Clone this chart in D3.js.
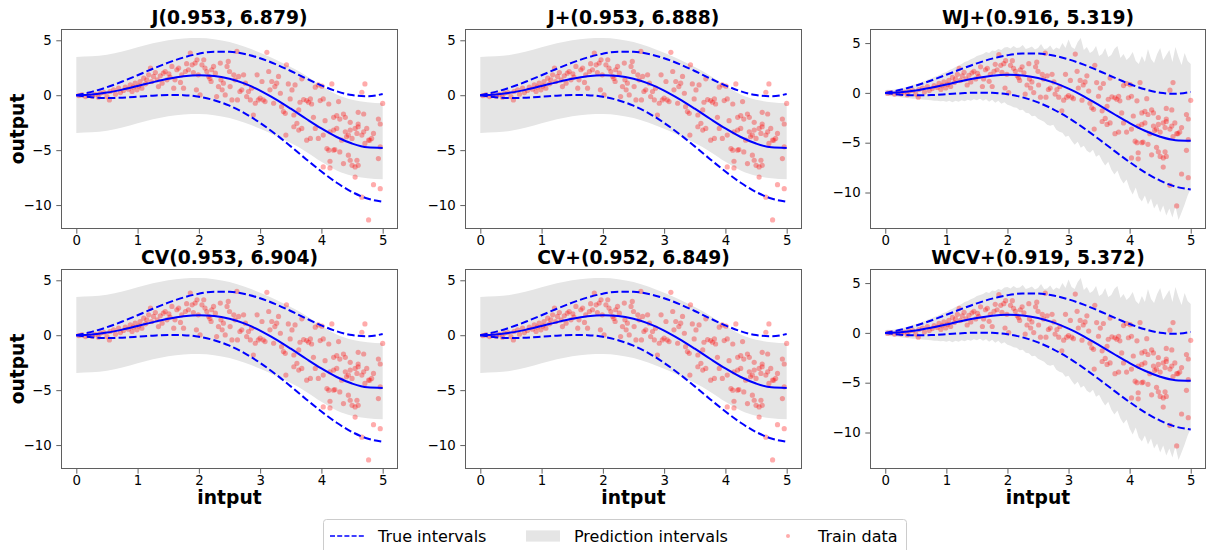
<!DOCTYPE html>
<html>
<head>
<meta charset="utf-8">
<script src="https://cdn.jsdelivr.net/npm/d3@7"></script>
<style>
  body { margin: 0; background: #fff; }
  svg { display: block; }
  text { font-family: "DejaVu Sans", sans-serif; fill: #000; }
</style>
</head>
<body>
<svg id="fig" width="1207" height="550"></svg>
<script>
// ---- data -------------------------------------------------------------
const panelTitles = ["J(0.953, 6.879)", "J+(0.953, 6.888)", "WJ+(0.916, 5.319)",
                     "CV(0.953, 6.904)", "CV+(0.952, 6.849)", "WCV+(0.919, 5.372)"];
const panelBand = ["smooth", "smooth", "weighted", "smooth", "smooth", "weighted"];

const xTicks = [0, 1, 2, 3, 4, 5];
const yTicks = [-10, -5, 0, 5];

// coarse grid used by the smooth curves
const gridX = [0, 0.25, 0.5, 0.75, 1, 1.25, 1.5, 1.75, 2, 2.25, 2.5, 2.75, 3, 3.25, 3.5, 3.75, 4, 4.25, 4.5, 4.75, 5];
const trueMean  = [0, 0.062, 0.240, 0.511, 0.841, 1.186, 1.496, 1.722, 1.819, 1.751, 1.496, 1.050, 0.423, -0.352, -1.228, -2.144, -3.027, -3.804, -4.399, -4.747, -4.795];
const trueUpper = [0, 0.307, 0.730, 1.246, 1.821, 2.411, 2.966, 3.437, 3.779, 3.956, 3.946, 3.745, 3.363, 2.833, 2.202, 1.531, 0.893, 0.361, 0.011, -0.092, 0.105];
const trueLower = [0, -0.183, -0.250, -0.224, -0.139, -0.039, 0.026, 0.007, -0.141, -0.454, -0.954, -1.645, -2.517, -3.537, -4.658, -5.819, -6.947, -7.969, -8.809, -9.402, -9.695];
const predUpper = [3.49, 3.54, 3.68, 3.98, 4.37, 4.73, 5.01, 5.16, 5.20, 5.09, 4.84, 4.41, 3.86, 3.24, 2.56, 1.78, 0.86, 0.06, -0.42, -0.64, -0.74];
const predLower = [-3.43, -3.38, -3.24, -2.94, -2.55, -2.19, -1.91, -1.76, -1.72, -1.83, -2.08, -2.51, -3.06, -3.68, -4.36, -5.14, -6.06, -6.86, -7.34, -7.56, -7.66];

// fine grid used by the weighted (jagged) intervals
const wGridX = [0, 0.05, 0.1, 0.15, 0.2, 0.25, 0.3, 0.35, 0.4, 0.45, 0.5, 0.55, 0.6, 0.65, 0.7, 0.75, 0.8, 0.85, 0.9, 0.95,
  1, 1.05, 1.1, 1.15, 1.2, 1.25, 1.3, 1.35, 1.4, 1.45, 1.5, 1.55, 1.6, 1.65, 1.7, 1.75, 1.8, 1.85, 1.9, 1.95,
  2, 2.05, 2.1, 2.15, 2.2, 2.25, 2.3, 2.35, 2.4, 2.45, 2.5, 2.55, 2.6, 2.65, 2.7, 2.75, 2.8, 2.85, 2.9, 2.95,
  3, 3.05, 3.1, 3.15, 3.2, 3.25, 3.3, 3.35, 3.4, 3.45, 3.5, 3.55, 3.6, 3.65, 3.7, 3.75, 3.8, 3.85, 3.9, 3.95,
  4, 4.05, 4.1, 4.15, 4.2, 4.25, 4.3, 4.35, 4.4, 4.45, 4.5, 4.55, 4.6, 4.65, 4.7, 4.75, 4.8, 4.85, 4.9, 4.95, 5];
const wPredUpper = [0.30, 0.32, 0.28, 0.35, 0.40, 0.45, 0.52, 0.58, 0.66, 0.80, 0.90, 0.98, 1.10, 1.20, 1.35, 1.45, 1.60, 1.70, 1.85, 2.00,
  2.10, 2.30, 2.42, 2.60, 2.75, 2.90, 3.10, 3.20, 3.38, 3.50, 3.70, 3.80, 3.90, 4.10, 4.00, 4.25, 4.20, 4.40, 4.30, 4.55,
  4.60, 4.45, 4.70, 4.50, 4.55, 4.80, 4.40, 4.50, 4.65, 4.35, 4.50, 4.90, 4.40, 4.45, 4.75, 4.30, 4.55, 4.40, 5.00, 4.50,
  5.35, 4.60, 4.40, 5.10, 5.50, 4.30, 4.60, 4.00, 4.20, 4.70, 3.70, 3.90, 4.50, 3.60, 3.80, 4.40, 4.70, 3.50, 3.90, 3.30,
  3.60, 4.10, 3.20, 2.90, 3.70, 3.10, 4.40, 3.40, 3.00, 3.90, 4.50, 3.30, 3.80, 4.30, 3.10, 4.60, 3.60, 2.80, 4.00, 3.20, 2.90];
const wPredLower = [-0.30, -0.32, -0.35, -0.38, -0.40, -0.45, -0.48, -0.52, -0.55, -0.58, -0.60, -0.62, -0.66, -0.70, -0.72, -0.75, -0.78, -0.80, -0.85, -0.82,
  -0.88, -0.80, -0.95, -0.78, -0.90, -0.75, -0.85, -0.70, -0.80, -0.65, -0.75, -0.60, -0.80, -0.65, -0.90, -0.70, -1.00, -0.80, -1.10, -0.95,
  -1.20, -1.30, -1.45, -1.50, -1.75, -1.70, -2.00, -2.05, -2.35, -2.30, -2.60, -2.75, -2.90, -3.20, -3.30, -3.20, -3.70, -3.90, -4.00, -4.40,
  -4.30, -4.80, -5.20, -4.90, -5.50, -5.30, -5.80, -6.00, -5.70, -6.40, -6.20, -6.80, -7.30, -6.90, -7.70, -8.20, -7.80, -8.60, -9.10, -8.70,
  -9.60, -10.20, -9.50, -10.50, -10.90, -10.30, -11.20, -10.60, -11.60, -11.10, -12.00, -11.30, -12.30, -11.60, -12.50, -11.40, -12.75, -12.00, -11.20, -10.30, -9.60];

// training sample
const trainX = [0.04, 0.09, 0.15, 0.20, 0.26, 0.31, 0.36, 0.39, 0.45, 0.50, 0.54,
  0.55, 0.61, 0.64, 0.69, 0.72, 0.77, 0.80, 0.85, 0.88, 0.91, 0.93, 0.96, 0.99, 1.02,
  1.04, 1.07, 1.10, 1.13, 1.15, 1.18, 1.21, 1.23, 1.26, 1.29, 1.32, 1.34, 1.37, 1.40, 1.42, 1.45, 1.48, 1.51,
  1.53, 1.56, 1.59, 1.61, 1.64, 1.67, 1.70, 1.72, 1.75, 1.78, 1.80, 1.83, 1.86, 1.89, 1.91, 1.94, 1.96, 1.97, 1.99,
  2.02, 2.05, 2.08, 2.10, 2.13, 2.16, 2.18, 2.20, 2.21, 2.24, 2.27, 2.29, 2.32, 2.35, 2.36, 2.38, 2.40, 2.43, 2.46, 2.48, 2.50,
  2.51, 2.54, 2.57, 2.59, 2.62, 2.63, 2.65, 2.67, 2.70, 2.73, 2.76, 2.78, 2.81, 2.84, 2.86, 2.89, 2.92, 2.95, 2.97, 3.00,
  3.03, 3.05, 3.08, 3.11, 3.14, 3.16, 3.19, 3.22, 3.24, 3.27, 3.30, 3.33, 3.35, 3.38, 3.41, 3.43, 3.42,
  3.46, 3.52, 3.57, 3.49, 3.65, 3.68, 3.71, 3.76, 3.79, 3.82, 3.84, 3.90, 3.95, 3.98, 4.01, 4.03, 4.12, 4.17, 4.28,
  4.69, 4.71, 4.66, 4.93, 4.96, 4.20, 4.25, 4.30, 4.36, 4.39, 4.47, 4.60, 4.60, 3.87, 4.06, 3.63, 3.55, 3.60, 5.00,
  3.55, 3.63, 3.68, 3.76, 3.82, 3.90, 3.95, 4.03, 4.14, 4.20, 4.25, 4.33, 4.39, 4.41, 4.44, 4.47, 4.50, 4.55, 4.58, 4.60,
  4.66, 4.69, 4.74, 4.77, 4.79, 4.82, 4.85, 4.71, 4.09, 4.12, 4.20, 4.22, 4.14, 4.30, 4.36, 4.44, 4.47, 4.50, 4.58, 4.60,
  4.55, 4.93, 4.96, 4.03, 4.14, 4.55, 4.85, 4.96, 4.66, 4.77];
const trainY = [-0.03, 0.03, -0.12, 0.00, -0.09, 0.09, -0.18, 0.18, 0.24, -0.12, -0.43,
  0.34, 0.49, 0.09, 0.64, 0.24, 0.43, 0.73, 0.55, 0.95, 0.34, 0.73, 1.10, 0.49, 0.85,
  1.25, 0.64, 1.55, 1.04, 1.40, 1.86, 2.47, 1.25, 1.71, 2.07, 1.40, 0.79, 1.77, 1.10, 2.01, 2.16, 1.40, 1.95,
  1.65, 2.62, 0.64, 1.40, 2.32, 2.47, 1.16, 1.86, 0.64, 2.16, 2.87, 2.32, 3.84, 2.77, 2.07, 2.93, 0.49, 3.23, 1.86,
  0.03, 2.77, 3.23, 2.47, 2.16, 1.71, 1.52, 1.25, 2.32, 2.62, 2.01, -0.12, 0.79, 2.93, 1.40, 0.49, 1.10, 0.03, 2.62, 3.08, 2.16,
  0.79, -0.43, 1.86, 1.40, 3.99, -0.43, 1.71, 0.34, 0.49, 1.86, 1.10, -0.12, 0.34, -0.43, 0.64, -1.80, -0.73, 1.86, -0.43, -0.27,
  1.25, -0.43, -0.58, 3.90, 2.16, 0.49, 1.25, -0.73, 0.79, 1.10, 1.71, 0.18, -1.04, -1.49, -1.65, 2.77, -3.63,
  1.03, 0.48, 0.94, -0.34, -0.64, 1.49, -0.40, -0.49, -0.64, -0.34, -0.80, 0.73, 0.94, -0.49, 0.82, -0.34, -0.80, 1.03, -0.58,
  -1.71, 1.03, 0.27, -2.17, -2.62, -2.01, -1.86, -2.17, -1.71, -2.01, -2.47, -2.62, -1.56, -2.01, -2.32, -1.34, -1.80, -2.56, -0.75,
  -2.87, -3.17, -3.02, -4.09, -3.93, -3.02, -3.93, -3.63, -3.33, -3.17, -3.02, -4.09, -3.33, -3.78, -3.63, -3.17, -3.93, -3.02, -3.48, -2.87,
  -3.63, -3.33, -3.02, -4.09, -4.09, -3.93, -3.48, -4.39, -4.85, -5.00, -5.00, -4.94, -6.01, -5.16, -6.22, -5.46, -5.92, -6.38, -5.92, -6.38,
  -6.53, -5.77, -4.70, -6.53, -6.62, -7.45, -8.14, -8.51, -9.28, -11.35];

const legendLabels = ["True intervals", "Prediction intervals", "Train data"];

// ---- layout -----------------------------------------------------------
const colLeft = [61, 465, 870];
const rowTop = [29, 269];
const W = 337, H = 200;
const tickLen = 4.7;
const blue = "#0000ff", bandGrey = "#e5e5e5", frameGrey = "#5f5f5f";

const svg = d3.select("#fig");
const fmt = d => (d < 0 ? "\u2212" + Math.abs(d) : String(d));

panelTitles.forEach((title, i) => {
  const row = Math.floor(i / 3), col = i % 3;
  const left = colLeft[col], top = rowTop[row];
  const width = col === 2 ? W - 1 : W;
  const weighted = panelBand[i] === "weighted";
  const bx = weighted ? wGridX : gridX;
  const bu = weighted ? wPredUpper : predUpper;
  const bl = weighted ? wPredLower : predLower;

  // 5% margins around the data, as in the plotting defaults
  const xExt = d3.extent(gridX);
  const xPad = (xExt[1] - xExt[0]) * 0.05;
  const yExt = d3.extent([...bu, ...bl, ...trainY, ...trueUpper, ...trueLower]);
  const yPad = (yExt[1] - yExt[0]) * 0.05;
  const x = d3.scaleLinear().domain([xExt[0] - xPad, xExt[1] + xPad]).range([0, width]);
  const y = d3.scaleLinear().domain([yExt[0] - yPad, yExt[1] + yPad]).range([H, 0]);

  const g = svg.append("g").attr("transform", `translate(${left},${top})`);

  // prediction interval band
  const band = d3.area()
    .x((d, k) => x(bx[k]))
    .y0((d, k) => y(bl[k]))
    .y1((d, k) => y(bu[k]))
    .curve(weighted ? d3.curveLinear : d3.curveMonotoneX);
  g.append("path").datum(bx).attr("d", band).attr("fill", bandGrey).attr("stroke", "none");

  // training points
  g.append("g").selectAll("circle").data(trainX).join("circle")
    .attr("cx", (d) => x(d))
    .attr("cy", (d, k) => y(trainY[k]))
    .attr("r", 2.6)
    .attr("fill", "#ff0000")
    .attr("fill-opacity", 0.33);

  // true mean and true intervals
  const line = arr => d3.line().x((d, k) => x(gridX[k])).y((d, k) => y(arr[k])).curve(d3.curveMonotoneX);
  g.append("path").datum(trueMean).attr("d", line(trueMean)(trueMean))
    .attr("fill", "none").attr("stroke", blue).attr("stroke-width", 2);
  [trueUpper, trueLower].forEach(arr => {
    g.append("path").datum(arr).attr("d", line(arr)(arr))
      .attr("fill", "none").attr("stroke", blue).attr("stroke-width", 2)
      .attr("stroke-dasharray", "7.4,3.2");
  });

  // axes
  const xAxis = d3.axisBottom(x).tickValues(xTicks).tickFormat(fmt).tickSize(tickLen).tickPadding(1.6);
  const yAxis = d3.axisLeft(y).tickValues(yTicks).tickFormat(fmt).tickSize(tickLen).tickPadding(4.7);
  const gx = g.append("g").attr("transform", `translate(0,${H})`).call(xAxis);
  const gy = g.append("g").call(yAxis);
  [gx, gy].forEach(a => {
    a.select(".domain").remove();
    a.selectAll(".tick line").attr("stroke", frameGrey).attr("stroke-width", 1);
    a.selectAll(".tick text").attr("font-size", 13.3).attr("font-family", "DejaVu Sans").attr("fill", "#000");
  });

  // frame
  g.append("rect").attr("x", 0.5).attr("y", 0.5).attr("width", width - 1).attr("height", H - 1)
    .attr("fill", "none").attr("stroke", frameGrey).attr("stroke-width", 1);

  // title
  g.append("text").attr("x", width / 2).attr("y", -5)
    .attr("text-anchor", "middle").attr("font-size", 18.7).attr("font-weight", "bold")
    .text(title);

  if (col === 0) {
    g.append("text")
      .attr("transform", `translate(${24 - left},${H / 2}) rotate(-90)`)
      .attr("text-anchor", "middle").attr("font-size", 18.7).attr("font-weight", "bold")
      .text("output");
  }
  if (row === 1) {
    g.append("text").attr("x", width / 2).attr("y", H + 34.5)
      .attr("text-anchor", "middle").attr("font-size", 18.7).attr("font-weight", "bold")
      .text("intput");
  }
});

// ---- legend -----------------------------------------------------------
const lg = svg.append("g").attr("transform", "translate(323,519)");
lg.append("rect").attr("x", 0.5).attr("y", 0.5).attr("width", 583).attr("height", 44).attr("rx", 3)
  .attr("fill", "#fff").attr("stroke", "#cccccc").attr("stroke-width", 1);
const cy = 17;
lg.append("line").attr("x1", 7).attr("x2", 41).attr("y1", cy).attr("y2", cy)
  .attr("stroke", blue).attr("stroke-width", 1.5).attr("stroke-dasharray", "5,2.2");
lg.append("rect").attr("x", 203).attr("y", cy - 5.6).attr("width", 34).attr("height", 11.2).attr("fill", bandGrey);
lg.append("circle").attr("cx", 465).attr("cy", cy).attr("r", 2).attr("fill", "#ff0000").attr("fill-opacity", 0.33);
const textX = [55, 251, 495];
legendLabels.forEach((t, k) => {
  lg.append("text").attr("x", textX[k]).attr("y", cy + 5.8).attr("font-size", 16).text(t);
});
</script>
</body>
</html>
